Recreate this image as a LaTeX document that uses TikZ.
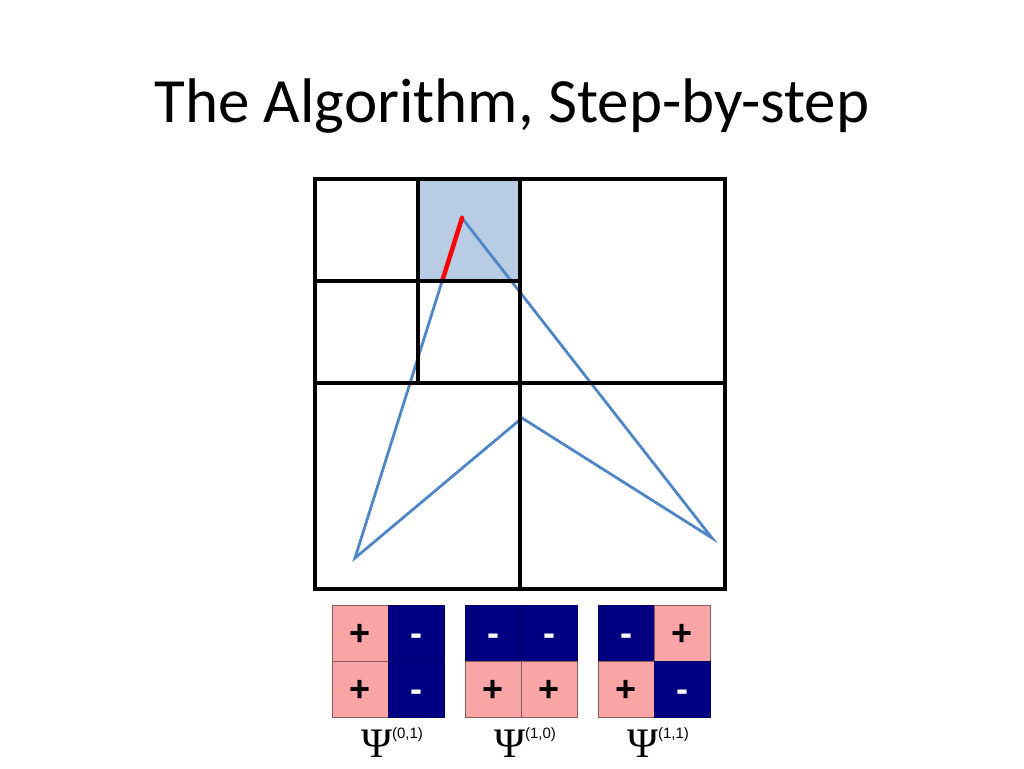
\documentclass[tikz,border=0pt]{standalone}
\usepackage{fontspec}
\setmainfont{Liberation Sans}
\newfontfamily\titlefont{Carlito}
\newfontfamily\serif{Liberation Serif}
\definecolor{cellshade}{HTML}{B8CCE4}
\definecolor{polyblue}{HTML}{4F86C6}
\definecolor{pinkc}{HTML}{F9A5A5}
\definecolor{navyc}{HTML}{000080}
\definecolor{cellline}{HTML}{8B5A5A}
\begin{document}
\begin{tikzpicture}[x=1pt,y=-1pt,
  gridline/.style={draw=black,line width=3.2pt},
  poly/.style={draw=polyblue,line width=2.8pt,line join=miter},
  redseg/.style={draw=red,line width=4.5pt},
  pcell/.style={fill=pinkc,draw=cellline,line width=0.7pt},
  ncell/.style={fill=navyc,draw=navyc!80!black,line width=0.7pt},
  plus/.style={font=\fontsize{36}{36}\selectfont\bfseries,text=black,inner sep=0pt},
  minus/.style={font=\fontsize{36}{36}\selectfont\bfseries,text=white,inner sep=0pt},
  psi/.style={anchor=base,inner sep=0pt}
]
\useasboundingbox (0,0) rectangle (1024,768);
\fill[white] (0,0) rectangle (1024,768);
\node[font=\titlefont\fontsize{63}{63}\selectfont,anchor=base] (title) at (512,122) {The Algorithm, Step-by-step};

% shaded cell
\fill[cellshade] (418,179) rectangle (520,281);

% polygon
\coordinate (top) at (462,218);
\coordinate (bl) at (355,558);
\coordinate (mid) at (522,418);
\coordinate (rt) at (712,538);
\coordinate (cut) at (442.2,281);
\draw[poly] (top) -- (bl) -- (mid) -- (rt) -- cycle;
\draw[redseg,line cap=round] (top) -- (cut);

% grid
\draw[gridline] (315,179) rectangle (725,589);
\draw[gridline] (520,179) -- (520,589);
\draw[gridline] (315,383) -- (725,383);
\draw[gridline] (418,179) -- (418,383);
\draw[gridline] (315,281) -- (520,281);

% Haar cells
\newcommand{\haar}[5]{%
  \begin{scope}[shift={(#1,605)}]
    \path[#2] (0,0) rectangle (56,56);
    \path[#3] (56,0) rectangle (112,56);
    \path[#4] (0,56) rectangle (56,112);
    \path[#5] (56,56) rectangle (112,112);
  \end{scope}}
\haar{332}{pcell}{ncell}{pcell}{ncell}
\haar{465}{ncell}{ncell}{pcell}{pcell}
\haar{598}{ncell}{pcell}{pcell}{ncell}

\node[plus] (a1) at (360,635) {+};
\node[minus] (a2) at (416,640) {-};
\node[plus] (a3) at (360,691) {+};
\node[minus] (a4) at (416,696) {-};
\node[minus] (b1) at (493,640) {-};
\node[minus] (b2) at (549,640) {-};
\node[plus] (b3) at (493,691) {+};
\node[plus] (b4) at (549,691) {+};
\node[minus] (c1) at (626,640) {-};
\node[plus] (c2) at (682,635) {+};
\node[plus] (c3) at (626,691) {+};
\node[minus] (c4) at (682,696) {-};

\newcommand{\psilabel}[1]{\serif\fontsize{42}{42}\selectfont Ψ\raisebox{19pt}{\fontsize{15}{15}\selectfont\normalfont(#1)}}
\node[psi] (p1) at (392,757) {\psilabel{0,1}};
\node[psi] (p2) at (525,757) {\psilabel{1,0}};
\node[psi] (p3) at (658,757) {\psilabel{1,1}};
\end{tikzpicture}
\end{document}
